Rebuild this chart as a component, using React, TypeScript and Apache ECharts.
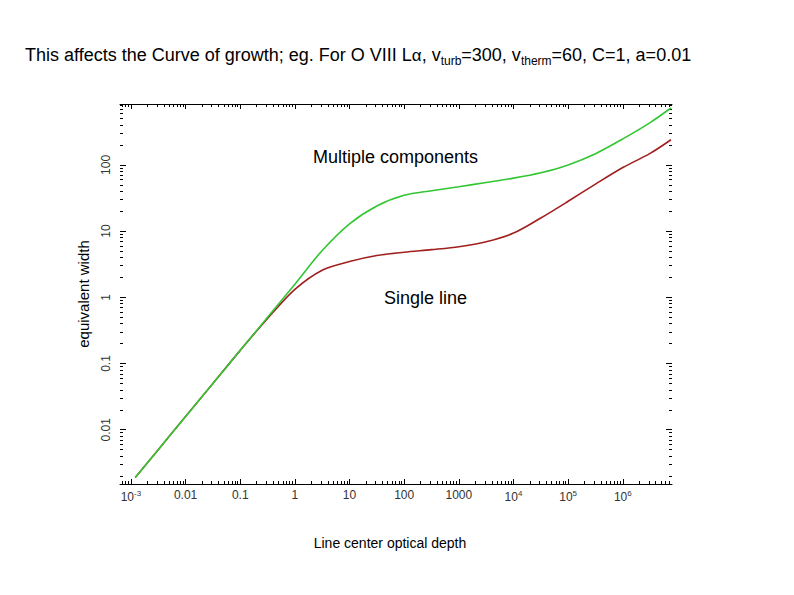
import React, { useEffect, useRef } from "react";
import * as echarts from "echarts";

// Line-center optical depth
const tau = [0.0012, 0.00316, 0.01, 0.0316, 0.1, 0.316, 1, 3.16, 10, 31.6, 100, 316, 1000, 3162, 1e4, 31623, 1e5, 316228, 1e6, 3162278, 7.6e6];
// Equivalent width, "Multiple components" (green)
const wMultiple = [0.0019, 0.005, 0.0158, 0.05, 0.158, 0.5, 1.58, 5.1, 12.9, 24, 34.7, 40.7, 46.8, 54.3, 63.1, 76.2, 100, 147.6, 247, 436, 724];
// Equivalent width, "Single line" (red)
const wSingle = [0.0019, 0.005, 0.0158, 0.05, 0.158, 0.479, 1.32, 2.57, 3.47, 4.27, 4.79, 5.25, 5.82, 6.92, 9.33, 15.8, 28.2, 51.3, 91.2, 149.6, 240];

const xTickExponents = [-3, -2, -1, 0, 1, 2, 3, 4, 5, 6];
const xTickLabels = ["10{s|-3}", "0.01", "0.1", "1", "10", "100", "1000", "10{s|4}", "10{s|5}", "10{s|6}"];
const yTickExponents = [-2, -1, 0, 1, 2];
const yTickLabels = ["0.01", "0.1", "1", "10", "100"];

const X_MIN = -3.2;
const X_MAX = 6.9;
const Y_MIN = -2.82;
const Y_MAX = 2.92;

const FONT = '"Liberation Sans", Arial, sans-serif';

function minorTicks(lo: number, hi: number): number[] {
  const out: number[] = [];
  for (let n = Math.floor(lo); n <= Math.ceil(hi); n++) {
    for (let k = 2; k <= 9; k++) {
      const v = n + Math.log10(k);
      if (v > lo && v < hi) out.push(v);
    }
  }
  return out;
}

export default function App() {
  const ref = useRef<HTMLDivElement>(null);
  useEffect(() => {
    if (!ref.current) return;
    const chart = echarts.init(ref.current, null, { renderer: "svg" });
    const xMinor = minorTicks(X_MIN, X_MAX);
    const yMinor = minorTicks(Y_MIN, Y_MAX);
    const tickLine = { color: "#000", width: 1 };
    const labelStyle = { fontFamily: FONT, fontSize: 12, color: "#333" };

    const xBase = { type: "value", min: X_MIN, max: X_MAX, splitLine: { show: false } } as any;
    const yBase = { type: "value", min: Y_MIN, max: Y_MAX, splitLine: { show: false } } as any;
    const noLine = { show: false, onZero: false };
    const line = { show: true, onZero: false, lineStyle: tickLine };

    const option: any = {
      animation: false,
      backgroundColor: "#fff",
      grid: { left: 120, right: 122, top: 104, bottom: 111 },
      xAxis: [
        {
          ...xBase,
          position: "bottom",
          name: "Line center optical depth",
          nameLocation: "middle",
          nameGap: 52,
          nameTextStyle: { fontFamily: FONT, fontSize: 14, color: "#000", padding: [0, 12, 0, 0] },
          axisLine: line,
          axisTick: { show: true, inside: true, length: 5, lineStyle: tickLine, customValues: xTickExponents },
          axisLabel: {
            ...labelStyle,
            margin: 5,
            customValues: xTickExponents,
            formatter: (v: number) => {
              const i = xTickExponents.indexOf(Math.round(v));
              return i >= 0 ? xTickLabels[i] : "";
            },
            rich: { s: { fontFamily: FONT, fontSize: 8, color: "#333", padding: [0, 0, 7, 0] } },
          },
        },
        {
          ...xBase,
          position: "bottom",
          axisLine: noLine,
          axisTick: { show: true, inside: true, length: 3, lineStyle: tickLine, customValues: xMinor },
          axisLabel: { show: false },
        },
        {
          ...xBase,
          position: "top",
          axisLine: line,
          axisTick: { show: true, inside: true, length: 5, lineStyle: tickLine, customValues: xTickExponents },
          axisLabel: { show: false },
        },
        {
          ...xBase,
          position: "top",
          axisLine: noLine,
          axisTick: { show: true, inside: true, length: 3, lineStyle: tickLine, customValues: xMinor },
          axisLabel: { show: false },
        },
      ],
      yAxis: [
        {
          ...yBase,
          position: "left",
          name: "equivalent width",
          nameLocation: "middle",
          nameGap: 29,
          nameTextStyle: { fontFamily: FONT, fontSize: 15, color: "#000" },
          axisLine: noLine,
          axisTick: { show: true, inside: true, length: 6, lineStyle: tickLine, customValues: yTickExponents },
          axisLabel: {
            ...labelStyle,
            rotate: 90,
            margin: 8,
            customValues: yTickExponents,
            formatter: (v: number) => {
              const i = yTickExponents.indexOf(Math.round(v));
              return i >= 0 ? yTickLabels[i] : "";
            },
          },
        },
        {
          ...yBase,
          position: "left",
          axisLine: noLine,
          axisTick: { show: true, inside: true, length: 3, lineStyle: tickLine, customValues: yMinor },
          axisLabel: { show: false },
        },
        {
          ...yBase,
          position: "right",
          axisLine: noLine,
          axisTick: { show: true, inside: true, length: 6, lineStyle: tickLine, customValues: yTickExponents },
          axisLabel: { show: false },
        },
        {
          ...yBase,
          position: "right",
          axisLine: noLine,
          axisTick: { show: true, inside: true, length: 3, lineStyle: tickLine, customValues: yMinor },
          axisLabel: { show: false },
        },
      ],
      series: [
        {
          name: "Single line",
          type: "line",
          xAxisIndex: 0,
          yAxisIndex: 0,
          data: tau.map((t, i) => [Math.log10(t), Math.log10(wSingle[i])]),
          showSymbol: false,
          smooth: 0.3,
          lineStyle: { color: "#a11f1f", width: 1.6 },
          itemStyle: { color: "#a11f1f" },
        },
        {
          name: "Multiple components",
          type: "line",
          xAxisIndex: 0,
          yAxisIndex: 0,
          data: tau.map((t, i) => [Math.log10(t), Math.log10(wMultiple[i])]),
          showSymbol: false,
          smooth: 0.3,
          lineStyle: { color: "#33c633", width: 1.6 },
          itemStyle: { color: "#33c633" },
        },
      ],
      graphic: [
        {
          type: "text",
          x: 25,
          y: 55,
          style: {
            text: "This affects the Curve of growth; eg. For O VIII L{a|α}, v{sub|turb}=300, v{sub|therm}=60, C=1, a=0.01",
            fontFamily: FONT,
            fontSize: 18,
            fill: "#000",
            verticalAlign: "middle",
            rich: {
              a: { fontFamily: FONT, fontSize: 17, fill: "#000" },
              sub: { fontFamily: FONT, fontSize: 12, fill: "#000", padding: [12, 0, 0, 0] },
            },
          },
        },
        {
          type: "text",
          x: 313,
          y: 157,
          style: { text: "Multiple components", fontFamily: FONT, fontSize: 18, fill: "#000", verticalAlign: "middle" },
        },
        {
          type: "text",
          x: 384,
          y: 298,
          style: { text: "Single line", fontFamily: FONT, fontSize: 18, fill: "#000", verticalAlign: "middle" },
        },
      ],
    };
    chart.setOption(option);
    return () => chart.dispose();
  }, []);
  return <div ref={ref} style={{ position: "absolute", left: 0, top: 0, width: 794, height: 595, background: "#fff" }} />;
}
